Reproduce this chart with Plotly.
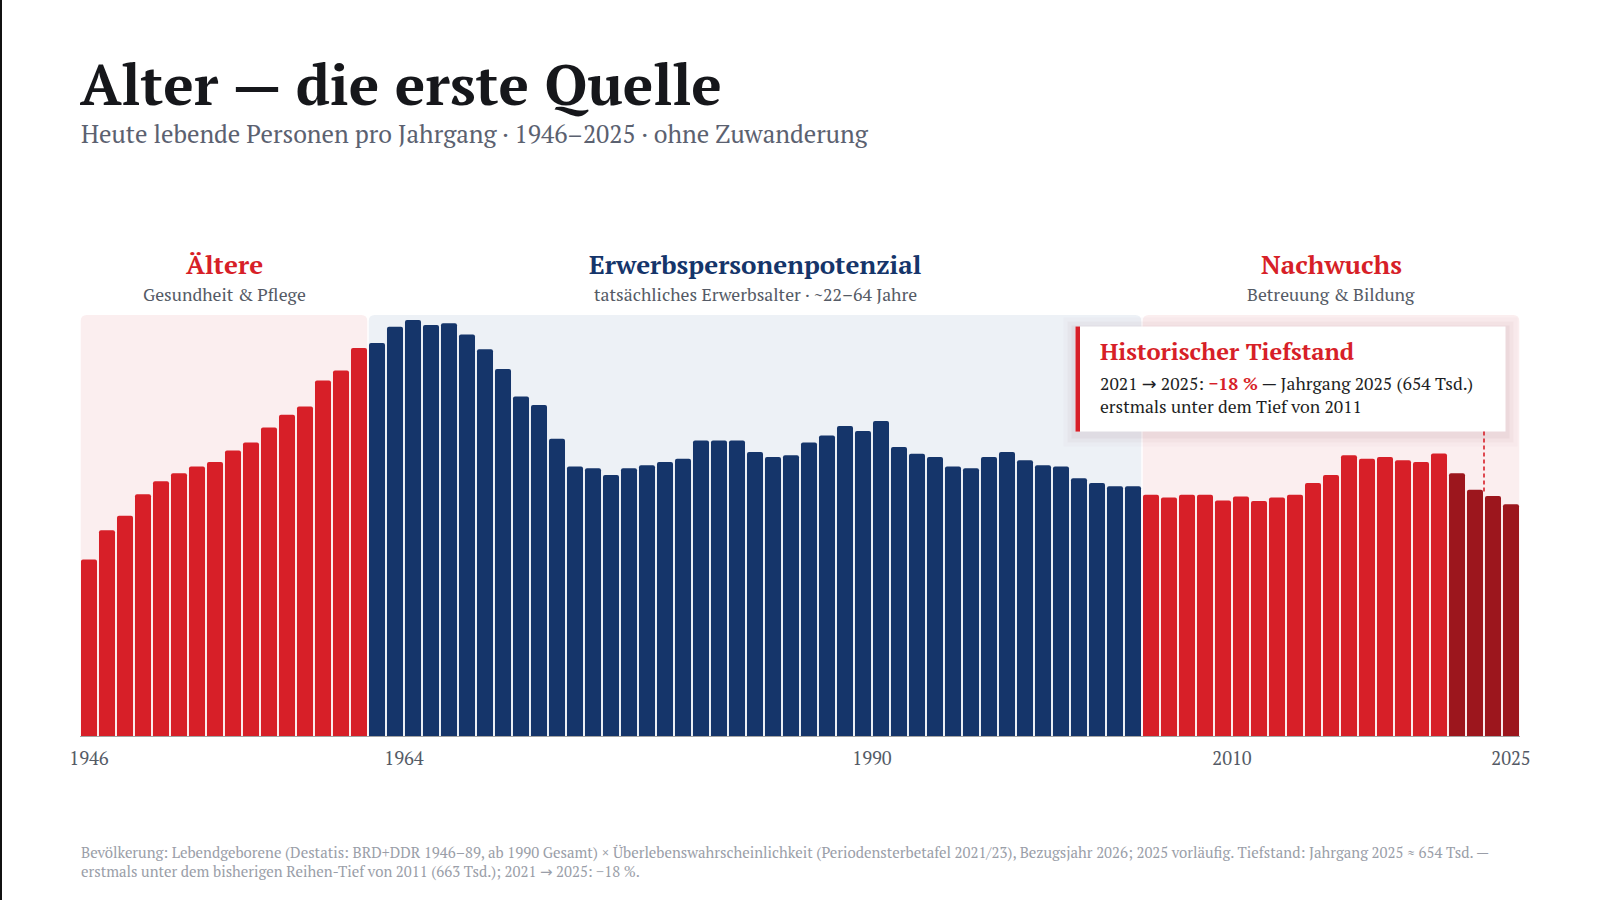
import plotly.graph_objects as go

# ---------------- data ----------------
years = list(range(1946, 2026))
values_tsd = [
    499, 581, 622, 682, 719, 741, 760, 773, 805, 828, 870, 906, 929, 1002, 1030, 1093,   # 1946-1961
    1107, 1153, 1172, 1158, 1163, 1131, 1090, 1034,                                       # 1962-1969
    957, 933, 838, 760, 755, 736, 755, 764, 773, 782,                                     # 1970-1979
    833, 833, 833, 801, 787, 792, 828, 847, 874, 860,                                     # 1980-1989
    888, 815, 796, 787, 760, 755, 787, 801, 778, 764,                                     # 1990-1999
    760, 727, 714, 705, 705,                                                              # 2000-2004
    681, 673, 681, 681, 665, 676, 663, 673, 681, 714,                                     # 2005-2014
    736, 792, 782, 787, 778, 773, 797, 741, 695, 677, 654,                                # 2015-2025
]
groups = ["Ältere", "Erwerbspersonenpotenzial", "Nachwuchs"]
group_start = [1946, 1962, 2005]
group_end = [1961, 2004, 2025]
group_sub = ["Gesundheit & Pflege", "tatsächliches Erwerbsalter · ~22–64 Jahre", "Betreuung & Bildung"]
recent_start = 2022          # darker highlight for the latest years
tick_labels = ["1946", "1964", "1990", "2010", "2025"]
tick_vals = [1946, 1963.5, 1989.5, 2009.5, 2025]

RED = "#D71F28"
NAVY = "#15356A"
DARKRED = "#9C161D"
PINK_BG = "#FBEEEF"
BLUE_BG = "#EDF1F6"
SERIF = "PT Serif, Liberation Serif, DejaVu Serif, serif"
ARROW = "<span style='font-family:DejaVu Sans'>→</span>"

# ---------------- layout geometry (pixels) ----------------
W, H = 1600, 900
ML, MR, MT, MB = 80, 80, 315, 163
PW, PH = W - ML - MR, H - MT - MB
Y_MAX = 1186
X_MIN, X_MAX = 1945.5, 2025.5


def xp(px):
    return (px - ML) / PW


def yp(py):
    return (H - MB - py) / PH


def px2x(px):
    return X_MIN + (px - ML) / PW * (X_MAX - X_MIN)


def py2y(py):
    return (H - MB - py) / PH * Y_MAX


def color_for(year):
    if year >= recent_start:
        return DARKRED
    if group_start[1] <= year <= group_end[1]:
        return NAVY
    return RED


colors = [color_for(y) for y in years]

fig = go.Figure()
fig.add_trace(go.Bar(
    x=years, y=values_tsd, width=0.89,
    marker=dict(color=colors, cornerradius=2, line=dict(width=0)),
    hovertemplate="%{x}: %{y} Tsd.<extra></extra>",
))

shapes = []
# background panels with rounded top corners
bg_cols = [PINK_BG, BLUE_BG, PINK_BG]
rx = 6 / PW * (X_MAX - X_MIN)
ry = 6 / PH * Y_MAX
for s, e, c in zip(group_start, group_end, bg_cols):
    x0, x1 = s - 0.5 + 0.04, e + 0.5 - 0.04
    y0, y1 = 0, Y_MAX
    path = (f"M{x0},{y0} L{x0},{y1-ry} Q{x0},{y1} {x0+rx},{y1} "
            f"L{x1-rx},{y1} Q{x1},{y1} {x1},{y1-ry} L{x1},{y0} Z")
    shapes.append(dict(type="path", path=path, xref="x", yref="y",
                       fillcolor=c, line=dict(width=0), layer="below"))

# baseline
shapes.append(dict(type="line", xref="paper", yref="y", x0=0, x1=1, y0=0, y1=0,
                   line=dict(color="#A3A3A3", width=2), layer="above"))

# annotation box with soft shadow
bx0, bx1, by0, by1 = 1075.5, 1505.5, 326.5, 431.6
for i, (grow, op) in enumerate([(12, 0.025), (8, 0.035), (4, 0.05)]):
    shapes.append(dict(type="rect", xref="x", yref="y",
                       x0=px2x(bx0 - grow), x1=px2x(bx1 + grow),
                       y0=py2y(by1 + grow + 3), y1=py2y(by0 - grow + 3),
                       fillcolor=f"rgba(120,60,70,{op})", line=dict(width=0), layer="above"))
shapes.append(dict(type="rect", xref="x", yref="y", x0=px2x(bx0), x1=px2x(bx1),
                   y0=py2y(by1), y1=py2y(by0), fillcolor="white", line=dict(width=0), layer="above"))
shapes.append(dict(type="rect", xref="x", yref="y", x0=px2x(bx0), x1=px2x(bx0 + 4.5),
                   y0=py2y(by1), y1=py2y(by0), fillcolor=RED, line=dict(width=0), layer="above"))
# dashed pointer
shapes.append(dict(type="line", xref="x", yref="y", x0=2023.5, x1=2023.5,
                   y0=py2y(by1), y1=py2y(494),
                   line=dict(color=RED, width=1.6, dash="4px,3px"), layer="above"))
# left page border
shapes.append(dict(type="line", xref="paper", yref="paper", x0=xp(1), x1=xp(1),
                   y0=yp(0), y1=yp(H), line=dict(color="#111111", width=2)))

annotations = []
annotations.append(dict(text="<b>Alter — die erste Quelle</b>", xref="paper", yref="paper",
                        x=xp(78), y=yp(84), xanchor="left", yanchor="middle", showarrow=False,
                        font=dict(family=SERIF, size=57, color="#16171B")))
annotations.append(dict(text="Heute lebende Personen pro Jahrgang · 1946–2025 · ohne Zuwanderung",
                        xref="paper", yref="paper", x=xp(78.5), y=yp(134), xanchor="left",
                        yanchor="middle", showarrow=False,
                        font=dict(family=SERIF, size=24.8, color="#5B6170")))
head_cols = [RED, NAVY, RED]
for g, sub, s, e, c in zip(groups, group_sub, group_start, group_end, head_cols):
    cx = (s + e) / 2
    annotations.append(dict(text=f"<b>{g}</b>", xref="x", yref="paper", x=cx, y=yp(264),
                            xanchor="center", yanchor="middle", showarrow=False,
                            font=dict(family=SERIF, size=26, color=c)))
    annotations.append(dict(text=sub, xref="x", yref="paper", x=cx, y=yp(294),
                            xanchor="center", yanchor="middle", showarrow=False,
                            font=dict(family=SERIF, size=17.7, color="#555B66")))
annotations.append(dict(text="<b>Historischer Tiefstand</b>", xref="paper", yref="paper",
                        x=xp(1098), y=yp(351), xanchor="left", yanchor="middle", showarrow=False,
                        font=dict(family=SERIF, size=23.8, color=RED)))
annotations.append(dict(
    text=(f"2021 {ARROW} 2025: <b><span style='color:{RED}'>−18 %</span></b> — Jahrgang 2025 (654 Tsd.)"
          "<br>erstmals unter dem Tief von 2011"),
    xref="paper", yref="paper", x=xp(1098), y=yp(394.5), xanchor="left", yanchor="middle",
    align="left", showarrow=False, font=dict(family=SERIF, size=17.6, color="#1E1F24")))
annotations.append(dict(
    text=("Bevölkerung: Lebendgeborene (Destatis: BRD+DDR 1946–89, ab 1990 Gesamt) × Überlebenswahrscheinlichkeit "
          "(Periodensterbetafel 2021/23), Bezugsjahr 2026; 2025 vorläufig. Tiefstand: Jahrgang 2025 ≈ 654 Tsd. —"
          f"<br>erstmals unter dem bisherigen Reihen-Tief von 2011 (663 Tsd.); 2021 {ARROW} 2025: −18 %."),
    xref="paper", yref="paper", x=xp(79), y=yp(862), xanchor="left", yanchor="middle",
    align="left", showarrow=False, font=dict(family=SERIF, size=14.9, color="#9A9EA8")))

fig.update_layout(
    width=W, height=H,
    margin=dict(l=ML, r=MR, t=MT, b=MB, pad=0),
    paper_bgcolor="white", plot_bgcolor="rgba(0,0,0,0)",
    showlegend=False, bargap=0.1,
    shapes=shapes, annotations=annotations,
    xaxis=dict(range=[X_MIN, X_MAX], tickvals=tick_vals, ticktext=tick_labels,
               showgrid=False, zeroline=False, showline=False, ticks="",
               ticklabelstandoff=8,
               tickfont=dict(family=SERIF, size=18.5, color="#555B66"), fixedrange=True),
    yaxis=dict(range=[0, Y_MAX], visible=False, showgrid=False, fixedrange=True),
    font=dict(family=SERIF),
)

fig.write_html("out.html", config={"displayModeBar": False})
